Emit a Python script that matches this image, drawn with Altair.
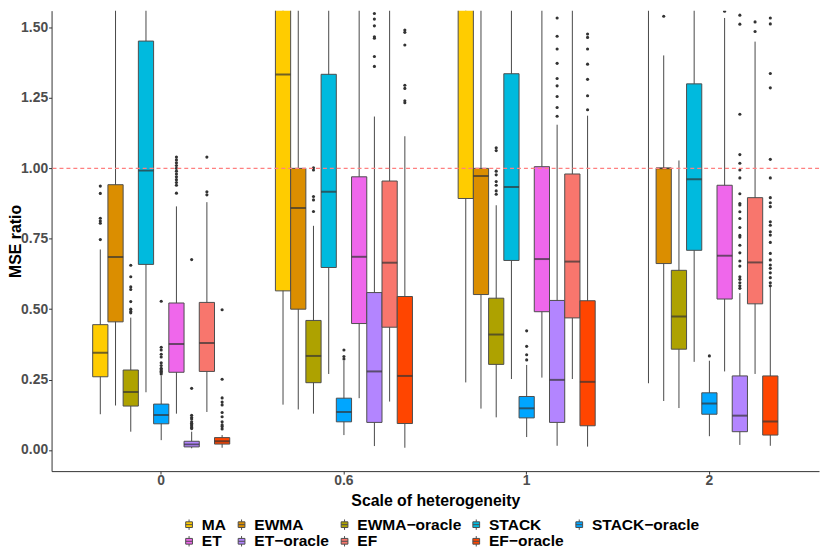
import altair as alt
import pandas as pd

groups = ["0", "0.6", "1", "2"]
methods = ["MA", "EWMA", "EWMA-oracle", "STACK", "STACK-oracle",
           "ET", "ET-oracle", "EF", "EF-oracle"]
colors = ["#FFCC00", "#DB8E00", "#AEA200", "#00BADE", "#00A6FF",
          "#EF67EB", "#B385FF", "#F8766D", "#FF4500"]
# legend grid is filled column by column (2 rows x 5 columns)
legend_order = ["MA", "ET", "EWMA", "ET-oracle", "EWMA-oracle", "EF",
                "STACK", "EF-oracle", "STACK-oracle"]

# per method, values for groups 0, 0.6, 1, 2
whisker_lo = {
    "MA": [0.127, 0.161, 0.240, 0.237],
    "EWMA": [0.158, 0.144, 0.147, 0.174],
    "EWMA-oracle": [0.065, 0.129, 0.116, 0.149],
    "STACK": [0.205, 0.270, 0.252, 0.313],
    "STACK-oracle": [0.035, 0.053, 0.046, 0.049],
    "ET": [0.129, 0.184, 0.257, 0.279],
    "ET-oracle": [0.006, 0.014, 0.015, 0.018],
    "EF": [0.135, 0.172, 0.252, 0.270],
    "EF-oracle": [0.008, 0.008, 0.012, 0.015],
}
q1 = {
    "MA": [0.260, 0.565, 0.893, 1.70],
    "EWMA": [0.455, 0.500, 0.552, 0.662],
    "EWMA-oracle": [0.156, 0.239, 0.304, 0.358],
    "STACK": [0.659, 0.648, 0.673, 0.709],
    "STACK-oracle": [0.093, 0.100, 0.114, 0.127],
    "ET": [0.276, 0.449, 0.491, 0.536],
    "ET-oracle": [0.011, 0.098, 0.098, 0.065],
    "EF": [0.279, 0.436, 0.469, 0.519],
    "EF-oracle": [0.021, 0.094, 0.086, 0.053],
}
median = {
    "MA": [0.345, 1.333, 1.68, 2.2],
    "EWMA": [0.685, 0.859, 0.973, 1.0],
    "EWMA-oracle": [0.206, 0.334, 0.410, 0.474],
    "STACK": [0.992, 0.917, 0.934, 0.961],
    "STACK-oracle": [0.124, 0.135, 0.148, 0.165],
    "ET": [0.376, 0.686, 0.678, 0.690],
    "ET-oracle": [0.020, 0.279, 0.249, 0.122],
    "EF": [0.380, 0.665, 0.669, 0.666],
    "EF-oracle": [0.031, 0.263, 0.242, 0.101],
}
q3 = {
    "MA": [0.445, 1.85, 2.3, 2.8],
    "EWMA": [0.942, 1.0, 1.0, 1.0],
    "EWMA-oracle": [0.284, 0.460, 0.539, 0.638],
    "STACK": [1.452, 1.334, 1.336, 1.300],
    "STACK-oracle": [0.163, 0.184, 0.190, 0.203],
    "ET": [0.522, 0.970, 1.006, 0.940],
    "ET-oracle": [0.031, 0.559, 0.531, 0.263],
    "EF": [0.524, 0.955, 0.980, 0.896],
    "EF-oracle": [0.044, 0.545, 0.530, 0.263],
}
whisker_hi = {
    "MA": [0.712, 2.9, 3.2, 3.6],
    "EWMA": [1.75, 1.75, 1.75, 1.401],
    "EWMA-oracle": [0.470, 0.796, 0.869, 1.028],
    "STACK": [2.4, 2.3, 2.3, 2.2],
    "STACK-oracle": [0.264, 0.317, 0.302, 0.317],
    "ET": [0.865, 1.75, 1.75, 1.534],
    "ET-oracle": [0.065, 1.184, 1.155, 0.557],
    "EF": [0.880, 1.75, 1.75, 1.450],
    "EF-oracle": [0.053, 1.114, 1.187, 0.580],
}
outliers = {
    "MA": [[0.937, 0.911, 0.823, 0.813, 0.805, 0.747], [], [], []],
    "EWMA": [[], [], [], [1.540]],
    "EWMA-oracle": [[0.487, 0.492, 0.50, 0.527, 0.570, 0.579, 0.615, 0.656],
                    [1.002, 0.994, 0.900, 0.888, 0.847],
                    [1.073, 1.063, 0.99, 0.977, 0.953, 0.940, 0.92, 0.908],
                    []],
    "STACK": [[], [], [], []],
    "STACK-oracle": [[0.528, 0.365, 0.355, 0.34, 0.33, 0.31, 0.30, 0.29, 0.285, 0.28, 0.275, 0.27],
                     [0.355, 0.332, 0.323],
                     [0.423, 0.368, 0.338, 0.320],
                     [0.334]],
    "ET": [[0.912, 0.94, 0.95, 0.96, 0.97, 0.98, 0.99, 1.0, 1.01, 1.02, 1.03, 1.04],
           [], [], [1.558]],
    "ET-oracle": [[0.676, 0.219, 0.123, 0.115, 0.11, 0.10, 0.095, 0.09, 0.085, 0.08, 0.076],
                  [1.550, 1.530, 1.506, 1.467, 1.462, 1.397, 1.362],
                  [1.534, 1.469, 1.424, 1.373, 1.319, 1.293, 1.255, 1.216, 1.185],
                  [1.544, 1.512, 1.192, 1.049, 1.018, 0.994, 0.966, 0.910, 0.875, 0.87,
                   0.846, 0.822, 0.790, 0.762, 0.756, 0.727, 0.700, 0.671, 0.653, 0.615,
                   0.606, 0.594, 0.583, 0.574]],
    "EF": [[1.040, 0.917, 0.906], [], [], [1.520, 1.486]],
    "EF-oracle": [[0.498, 0.251, 0.185, 0.17, 0.16, 0.133, 0.118, 0.10, 0.089, 0.083, 0.075],
                  [1.491, 1.483, 1.438, 1.295, 1.284, 1.240, 1.233],
                  [1.477, 1.465, 1.424, 1.370, 1.316, 1.258, 1.208],
                  [1.534, 1.513, 1.337, 1.286, 1.032, 0.966, 0.896, 0.878, 0.864, 0.81,
                   0.798, 0.775, 0.763, 0.737, 0.698, 0.675, 0.657, 0.645, 0.629, 0.612,
                   0.594, 0.583]],
}
reference = [1.0]

rows = []
for m in methods:
    for i, g in enumerate(groups):
        rows.append({"group": g, "method": m, "lo": whisker_lo[m][i], "q1": q1[m][i],
                     "med": median[m][i], "q3": q3[m][i], "hi": whisker_hi[m][i]})
stats = pd.DataFrame(rows)
out_rows = []
for m in methods:
    for i, g in enumerate(groups):
        for v in outliers[m][i]:
            out_rows.append({"group": g, "method": m, "value": v})
outdf = pd.DataFrame(out_rows)

color_of = dict(zip(methods, colors))
legend_colors = [color_of[m] for m in legend_order]

W, H = 775, 465
FONT = "Liberation Sans"

xenc = alt.X("group:N", sort=groups, title="Scale of heterogeneity",
             scale=alt.Scale(paddingInner=0.25, paddingOuter=0.225),
             axis=alt.Axis(labelAngle=0))
xoff = alt.XOffset("method:N", sort=methods, scale=alt.Scale(paddingInner=0, paddingOuter=0))
yscale = alt.Scale(domain=[-0.075, 1.56], nice=False, zero=False)
yaxis = alt.Axis(values=[0, 0.25, 0.5, 0.75, 1.0, 1.25, 1.5], format=".2f")

base = alt.Chart(stats)
whisk = base.mark_rule(color="#333333", strokeWidth=0.9, clip=True).encode(
    x=xenc, xOffset=xoff,
    y=alt.Y("lo:Q", scale=yscale, axis=yaxis, title="MSE ratio"),
    y2="hi:Q")
box = base.mark_bar(stroke="#4D4D4D", strokeWidth=1, clip=True).encode(
    x=xenc, xOffset=xoff,
    y=alt.Y("q1:Q", scale=yscale),
    y2="q3:Q",
    color=alt.Color("method:N",
                    scale=alt.Scale(domain=legend_order, range=legend_colors),
                    legend=alt.Legend(
                        title=None, orient="none", legendX=131, legendY=511,
                        columns=5, columnPadding=7, rowPadding=0,
                        symbolType="M-0.65,-0.55H0.65V0.55H-0.65Z M-0.65,0H0.65 M0,-0.55V-1 M0,0.55V1",
                        symbolSize=110, symbolStrokeColor="#4D4D4D", symbolStrokeWidth=1,
                        symbolOpacity=1, labelOffset=5,
                        labelFont=FONT, labelFontSize=15.7, labelFontWeight="bold",
                        labelColor="#000000",
                        labelExpr="replace(datum.label, '-', '\u2212')")))
med = base.mark_tick(color="#333333", thickness=2, size=15.4, clip=True).encode(
    x=xenc, xOffset=xoff, y=alt.Y("med:Q", scale=yscale))
pts = alt.Chart(outdf).mark_circle(color="#333333", size=10, opacity=1, clip=True).encode(
    x=xenc, xOffset=xoff, y=alt.Y("value:Q", scale=yscale))
ref = alt.Chart(pd.DataFrame({"ref": reference})).mark_rule(
    color="#FF8080", strokeDash=[4, 3], strokeWidth=1.4).encode(
    y=alt.Y("ref:Q", scale=yscale))

chart = alt.layer(whisk, box, med, pts, ref).properties(
    width=W, height=H,
    autosize=alt.AutoSizeParams(type="none"),
    padding={"left": 44, "top": 0, "right": 3, "bottom": 79},
).configure_view(stroke=None).configure_axis(
    grid=False, domainColor="#333333", domainWidth=1, tickColor="#333333",
    tickSize=3, tickWidth=1, labelFont=FONT, labelFontSize=14, labelFontWeight="bold",
    labelColor="#4D4D4D", titleFont=FONT, titleFontSize=16, titleFontWeight="bold",
    titleColor="#000000",
).configure_axisY(titlePadding=-3, labelPadding=1).configure_axisX(
    titlePadding=5, labelPadding=0)

chart.save("out.html", embed_options={"renderer": "svg", "actions": False})
